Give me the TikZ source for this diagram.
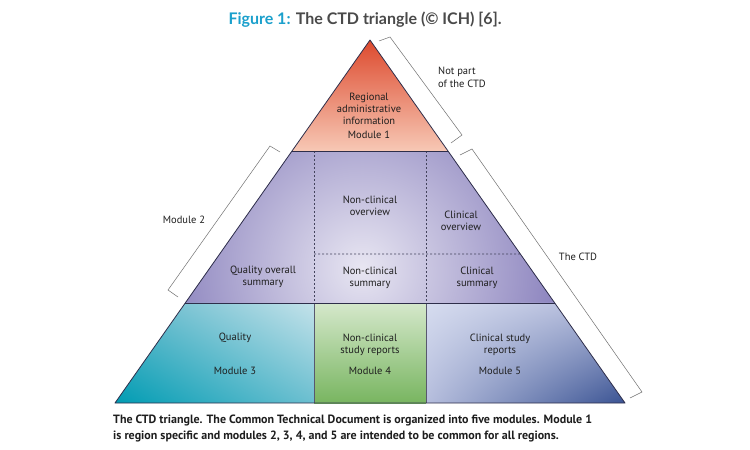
\documentclass[tikz,border=0pt]{standalone}
\usepackage{fontspec}
\setmainfont{PT Sans}
\newfontfamily\titlefont{Lato}
\usetikzlibrary{calc,shadings}
\definecolor{figblue}{HTML}{1BA0CC}
\definecolor{titlegray}{HTML}{4A4A4A}
\definecolor{txt}{HTML}{1E1E1E}
\definecolor{edgecol}{HTML}{2E2E4A}
\definecolor{brk}{HTML}{707070}
\definecolor{mAtop}{HTML}{DD4A2E}
\definecolor{mAmid}{HTML}{EC8E74}
\definecolor{mAbot}{HTML}{F7C8B5}
\definecolor{mBout}{HTML}{8F87C0}
\definecolor{mBin}{HTML}{E8E6F2}
\definecolor{mCll}{HTML}{009CB3}
\definecolor{mCul}{HTML}{5EB7CA}
\definecolor{mCur}{HTML}{C4E2EA}
\definecolor{mClr}{HTML}{6CBFD0}
\definecolor{mDtop}{HTML}{D5E8CB}
\definecolor{mDbot}{HTML}{78B560}
\definecolor{mEul}{HTML}{D6DCEF}
\definecolor{mEur}{HTML}{AEB6D8}
\definecolor{mEll}{HTML}{B6BEDD}
\definecolor{mElr}{HTML}{3A5393}
\tikzset{
  edgeline/.style={draw=edgecol, line width=0.8pt, line join=round},
  colline/.style={draw=edgecol!80!white, line width=0.7pt},
  dashline/.style={draw=edgecol!90!white, line width=0.6pt, dash pattern=on 2pt off 2pt},
  bracketline/.style={draw=brk, line width=0.5pt, line join=miter},
  lbl/.style={text=txt, font=\fontsize{10.5}{12}\selectfont, align=center, inner sep=0pt},
  lbll/.style={text=txt, font=\fontsize{10.5}{13}\selectfont, align=left, inner sep=0pt, anchor=west},
}
\begin{document}
\begin{tikzpicture}[x=1pt,y=-1pt]
\useasboundingbox (0,0) rectangle (750,450);
\fill[white] (0,0) rectangle (750,450);
\coordinate (A) at (370,40);
\coordinate (BL) at (115,403);
\coordinate (BR) at (625,403);
\coordinate (L1) at ($(A)!0.3058!(BL)$);
\coordinate (R1) at ($(A)!0.3058!(BR)$);
\coordinate (L2) at ($(A)!0.7245!(BL)$);
\coordinate (R2) at ($(A)!0.7245!(BR)$);
\coordinate (RD) at ($(A)!0.5895!(BR)$);
\coordinate (c1t) at (314,151);
\coordinate (c2t) at (426,151);
\coordinate (c1m) at (314,303);
\coordinate (c2m) at (426,303);
\coordinate (c1b) at (314,403);
\coordinate (c2b) at (426,403);
\coordinate (c1d) at (314,254);
% module 1
\shade[top color=mAtop, middle color=mAmid, bottom color=mAbot] (A) -- (L1) -- (R1) -- cycle;
% module 2
\fill[mBout] (L1) -- (R1) -- (R2) -- (L2) -- cycle;
\begin{scope}
\clip (L1) -- (R1) -- (R2) -- (L2) -- cycle;
\shade[inner color=mBin, outer color=mBout] (362,268) circle[radius=190pt];
\end{scope}
% module 3
\shade[lower left=mCll, upper left=mCul, upper right=mCur, lower right=mClr] (L2) -- (c1m) -- (c1b) -- (BL) -- cycle;
% module 4
\shade[top color=mDtop, bottom color=mDbot] (c1m) rectangle (c2b);
% module 5
\shade[upper left=mEul, upper right=mEur, lower left=mEll, lower right=mElr] (c2m) -- (R2) -- (BR) -- (c2b) -- cycle;
% lines
\draw[dashline] (c1t) -- (c1m);
\draw[dashline] (c2t) -- (c2m);
\draw[dashline] (c1d) -- (RD);
\draw[colline] (c1m) -- (c1b);
\draw[colline] (c2m) -- (c2b);
\draw[edgeline] (L1) -- (R1);
\draw[edgeline] (L2) -- (R2);
\draw[edgeline] (A) -- (BL) -- (BR) -- cycle;
% brackets
\draw[bracketline] (379,41) -- (390,37) -- (462,135) -- (451,143);
\draw[bracketline] (460,155) -- (472,149) -- (642,392) -- (630,398);
\draw[bracketline] (280,152) -- (270,146) -- (168,290) -- (178,297);
% texts
\node[lbl] (m1txt) at (369,109) {Regional\\administrative\\information};
\node[lbl] (m1) at (369,135) {Module 1};
\node[lbl] (ncov) at (370,205.5) {Non-clinical\\overview};
\node[lbl] (clov) at (461,221) {Clinical\\overview};
\node[lbl] (qos) at (263,277) {Quality overall\\summary};
\node[lbl] (ncsum) at (370,278) {Non-clinical\\summary};
\node[lbl] (clsum) at (477,278) {Clinical\\summary};
\node[lbl] (qual) at (235,338) {Quality};
\node[lbl] (m3) at (235,371) {Module 3};
\node[lbl] (ncsr) at (370,344.5) {Non-clinical\\study reports};
\node[lbl] (m4) at (370,371) {Module 4};
\node[lbl] (clsr) at (500,344.5) {Clinical study\\reports};
\node[lbl] (m5) at (500,371) {Module 5};
\node[lbl] (mod2) at (184,220) {Module 2};
\node[lbl] (ctd) at (578,257) {The CTD};
\node[lbll] (notpart) at (438,77.5) {Not part\\of the CTD};
% title
\node[inner sep=0pt] (title) at (365,20) {\titlefont\bfseries\fontsize{16}{18}\selectfont\textcolor{figblue}{Figure 1:} \textcolor{titlegray}{The CTD triangle (© ICH) [6].}};
% caption
\node[inner sep=0pt, anchor=north west, align=left, text=txt, font=\bfseries\fontsize{12}{16}\selectfont] (caption) at (113,414.5) {The CTD triangle. The Common Technical Document is organized into five modules. Module 1\\is region specific and modules 2, 3, 4, and 5 are intended to be common for all regions.};
\end{tikzpicture}
\end{document}
